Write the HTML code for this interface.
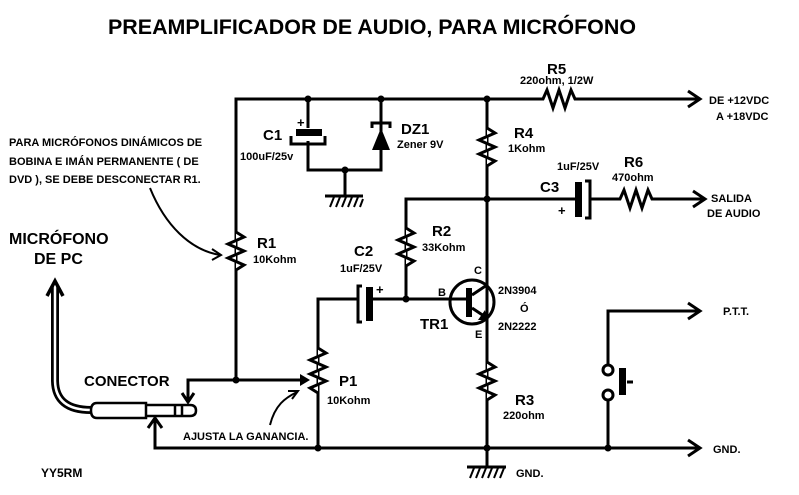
<!DOCTYPE html>
<html><head><meta charset="utf-8"><style>
html,body{margin:0;padding:0;background:#fff;}
svg{display:block;}
text{font-family:"Liberation Sans",sans-serif;font-weight:bold;fill:#000;}
</style></head><body>
<svg width="799" height="495" viewBox="0 0 799 495" xmlns="http://www.w3.org/2000/svg">
<g stroke="#000" stroke-width="3" fill="none" stroke-linejoin="miter">
<path d="M236 380 V99 H543 l4 -9 l6 18 l6 -18 l6 18 l6 -18 l4 9 H698"/>
<path d="M688 91 L700 99 L688 107"/>
<path d="M236 232 l8 5 l-16 7 l16 7 l-16 7 l16 7 l-8 5" stroke-width="3" fill="#fff"/>
<path d="M308 99 V128 M308 141 V170 H381 V99"/>
<path d="M291 136 V144 H325 V136"/>
<path d="M345 170 V195 M325 196 H363"/>
<path d="M372 128 V123 H390 V128"/>
<path d="M487 99 V448"/>
<path d="M487 128 l8 5 l-16 7 l16 7 l-16 7 l16 7 l-8 5" fill="#fff"/>
<path d="M406 299 V199 H575 M590 199 H620 l4 -9 l6 18 l6 -18 l6 18 l6 -18 l4 9 H703"/>
<path d="M693 191 L705 199 L693 207"/>
<path d="M585 181 H590 V218 H585"/>
<path d="M406 228 l8 5 l-16 7 l16 7 l-16 7 l16 7 l-8 5" fill="#fff"/>
<path d="M318 448 V299 H358 M372 299 H470"/>
<path d="M362 286 H358 V322 H362"/>
<circle cx="472" cy="302" r="22"/>
<path d="M472 295 L487 285 M472 308 L484 316"/>
<path d="M487 362 l8 5 l-16 7 l16 7 l-16 7 l16 7 l-8 5" fill="#fff"/>
<path d="M487 448 V466 M467 467 H506"/>
<path d="M318 348 l8 5 l-16 7 l16 7 l-16 7 l16 7 l-16 7 l8 5" fill="#fff"/>
<path d="M188 400 V380 H300"/>
<path d="M182 393 L188 402 L194 393"/>
<path d="M155 420 V448 H698"/>
<path d="M148 428 L155 418 L162 428"/>
<path d="M688 440 L700 448 L688 456"/>
<path d="M608 448 V401 M608 365 V311 H698"/>
<path d="M688 303 L700 311 L688 319"/>
<circle cx="608" cy="370" r="5"/>
<circle cx="608" cy="395" r="5"/>
<path d="M627 382 H633"/>
<path d="M150 188 C165 225 190 250 220 255" stroke-width="2"/>
<path d="M212 249 L221 255 L212 260" stroke-width="2"/>
<path d="M270 425 C275 405 285 398 297 392" stroke-width="2"/>
<path d="M288 391 L298 391 L292 399" stroke-width="2"/>
<path d="M55 285 V380 Q55 410 91 410" stroke-width="8"/>
<path d="M55 285 V380 Q55 410 91 410" stroke="#fff" stroke-width="2.5"/>
<path d="M47 296 L55 281 L63 296" stroke-width="3.5"/>
<path d="M97 403 H146 V418 H97 Q91 418 91 410.5 Q91 403 97 403 Z" stroke-width="2.5"/>
<path d="M146 405 H175 V416 H146 M175 405 H182 V416 H175 M182 405 H190 Q196 405 196 410.5 Q196 416 190 416 H182" stroke-width="2.5"/>
</g>
<g fill="#000">
<rect x="296" y="129" width="26" height="7"/>
<polygon points="372,150 390,150 381,128"/>
<rect x="575" y="182" width="7" height="35"/>
<rect x="366" y="287" width="7" height="34"/>
<rect x="466" y="288" width="6" height="29"/>
<polygon points="487,320 478,320 485,310"/>
<rect x="619" y="368" width="7" height="27"/>
<polygon points="300,374 310,380 300,386"/>
<circle cx="308" cy="99" r="3.5"/><circle cx="381" cy="99" r="3.5"/><circle cx="487" cy="99" r="3.5"/>
<circle cx="345" cy="170" r="3.5"/><circle cx="487" cy="199" r="3.5"/><circle cx="406" cy="299" r="3.5"/>
<circle cx="236" cy="380" r="3.5"/><circle cx="318" cy="448" r="3.5"/><circle cx="487" cy="448" r="3.5"/>
<circle cx="608" cy="448" r="3.5"/>
</g>
<g stroke="#000" stroke-width="2">
<path d="M330 207 l4 -10 M336 207 l4 -10 M342 207 l4 -10 M348 207 l4 -10 M354 207 l4 -10 M360 207 l3 -8"/>
<path d="M470 478 l4 -10 M476 478 l4 -10 M482 478 l4 -10 M488 478 l4 -10 M494 478 l4 -10 M500 478 l4 -10"/>
</g>
<text x="108" y="34" font-size="21" textLength="528" lengthAdjust="spacingAndGlyphs">PREAMPLIFICADOR DE AUDIO, PARA MICRÓFONO</text>
<text x="547" y="74" font-size="15">R5</text>
<text x="520" y="84" font-size="11">220ohm, 1/2W</text>
<text x="709" y="104" font-size="11">DE +12VDC</text>
<text x="716" y="120" font-size="11">A +18VDC</text>
<text x="263" y="140" font-size="15">C1</text>
<text x="240" y="160" font-size="11">100uF/25v</text>
<text x="297" y="127" font-size="13">+</text>
<text x="401" y="134" font-size="15">DZ1</text>
<text x="397" y="148" font-size="11">Zener 9V</text>
<text x="514" y="138" font-size="15">R4</text>
<text x="508" y="152" font-size="11">1Kohm</text>
<text x="557" y="170" font-size="11">1uF/25V</text>
<text x="624" y="167" font-size="15">R6</text>
<text x="612" y="181" font-size="11">470ohm</text>
<text x="540" y="192" font-size="15">C3</text>
<text x="558" y="215" font-size="13">+</text>
<text x="711" y="202" font-size="11">SALIDA</text>
<text x="707" y="217" font-size="11">DE AUDIO</text>
<text x="9" y="146" font-size="11">PARA MICRÓFONOS DINÁMICOS DE</text>
<text x="9" y="165" font-size="11">BOBINA E IMÁN PERMANENTE ( DE</text>
<text x="9" y="183" font-size="11">DVD ), SE DEBE DESCONECTAR R1.</text>
<text x="432" y="236" font-size="15">R2</text>
<text x="422" y="251" font-size="11">33Kohm</text>
<text x="257" y="248" font-size="15">R1</text>
<text x="253" y="263" font-size="11">10Kohm</text>
<text x="9" y="244" font-size="16">MICRÓFONO</text>
<text x="34" y="264" font-size="16">DE PC</text>
<text x="354" y="256" font-size="15">C2</text>
<text x="340" y="272" font-size="11">1uF/25V</text>
<text x="376" y="294" font-size="13">+</text>
<text x="474" y="274" font-size="11">C</text>
<text x="438" y="296" font-size="11">B</text>
<text x="498" y="294" font-size="11">2N3904</text>
<text x="520" y="312" font-size="11">Ó</text>
<text x="498" y="330" font-size="11">2N2222</text>
<text x="420" y="329" font-size="15">TR1</text>
<text x="475" y="338" font-size="11">E</text>
<text x="723" y="315" font-size="11">P.T.T.</text>
<text x="84" y="386" font-size="15">CONECTOR</text>
<text x="339" y="386" font-size="15">P1</text>
<text x="327" y="404" font-size="11">10Kohm</text>
<text x="515" y="405" font-size="15">R3</text>
<text x="503" y="419" font-size="11">220ohm</text>
<text x="183" y="440" font-size="11">AJUSTA LA GANANCIA.</text>
<text x="713" y="453" font-size="11">GND.</text>
<text x="516" y="477" font-size="11">GND.</text>
<text x="41" y="477" font-size="12">YY5RM</text>
</svg>
</body></html>
